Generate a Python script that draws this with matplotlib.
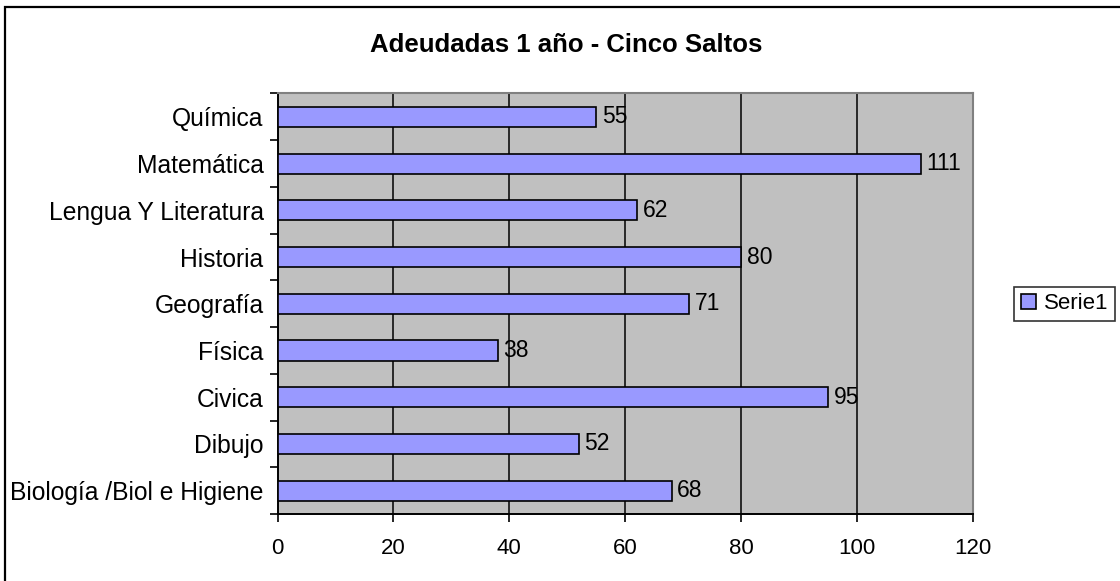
import matplotlib
matplotlib.use("Agg")
import matplotlib.pyplot as plt
from matplotlib.patches import Rectangle
from matplotlib.ticker import FixedLocator

categories = ["Biología /Biol e Higiene", "Dibujo", "Civica", "Física", "Geografía",
              "Historia", "Lengua Y Literatura", "Matemática", "Química"]
values = [68, 52, 95, 38, 71, 80, 62, 111, 55]
x_ticks = [0, 20, 40, 60, 80, 100, 120]
title = "Adeudadas 1 año - Cinco Saltos"
series_name = "Serie1"

plt.rcParams['font.family'] = ['Liberation Sans', 'DejaVu Sans']
FS_CAT = 17.7
FS_NUM = 16
FS_TITLE = 18.5

W, H = 1120, 581
fig = plt.figure(figsize=(W / 100, H / 100), dpi=100)
fig.patch.set_facecolor("white")

# chart border
fig.patches.append(Rectangle((5 / W, -0.05), 1.2, 1 - 7 / H + 0.05, transform=fig.transFigure,
                             fill=False, edgecolor="black", linewidth=1.6, zorder=0))

left, right, top, bottom = 277.5, 973, 93.5, 514
ax = fig.add_axes([left / W, 1 - bottom / H, (right - left) / W, (bottom - top) / H])
ax.set_facecolor("#C0C0C0")

y = list(range(len(categories)))
ax.barh(y, values, height=0.43, color="#9999FF", edgecolor="black", linewidth=1.2,
        zorder=3, label=series_name)

ax.set_xlim(0, 120)
ax.set_ylim(-0.5, len(categories) - 0.5)
ax.set_xticks(x_ticks)
ax.set_xticklabels([str(t) for t in x_ticks], fontsize=FS_NUM)
ax.set_yticks(y)
ax.set_yticklabels(categories, fontsize=FS_CAT)
ax.tick_params(axis="y", which="major", length=0, pad=10)
ax.yaxis.set_minor_locator(FixedLocator([i - 0.5 for i in range(len(categories) + 1)]))
ax.tick_params(axis="y", which="minor", length=6, width=1.2, direction="out")
ax.tick_params(axis="x", which="major", length=6, width=1.2, direction="out", pad=11)

for xv in x_ticks[1:-1]:
    ax.axvline(xv, color="black", linewidth=1.1, zorder=1)

for s in ["top", "right"]:
    ax.spines[s].set_color("#808080")
    ax.spines[s].set_linewidth(1.5)
for s in ["left", "bottom"]:
    ax.spines[s].set_color("black")
    ax.spines[s].set_linewidth(1.4)

for yi, v in zip(y, values):
    ax.annotate(str(v), (v, yi), xytext=(4, 0), textcoords="offset points",
                va="center", ha="left", fontsize=FS_NUM + 0.5, zorder=4)

fig.text(566 / W, 1 - 45 / H, title, ha="center", va="center", fontsize=FS_TITLE, fontweight="bold")

leg = ax.legend(loc="center left", bbox_to_anchor=((1014 - left) / (right - left), 0.5),
                fontsize=FS_NUM, frameon=True, fancybox=False, handlelength=0.7, handleheight=0.7,
                borderpad=0.3, handletextpad=0.35, borderaxespad=0)
leg.get_frame().set_edgecolor("black")
leg.get_frame().set_linewidth(1.2)

fig.savefig("out.png", dpi=100)
